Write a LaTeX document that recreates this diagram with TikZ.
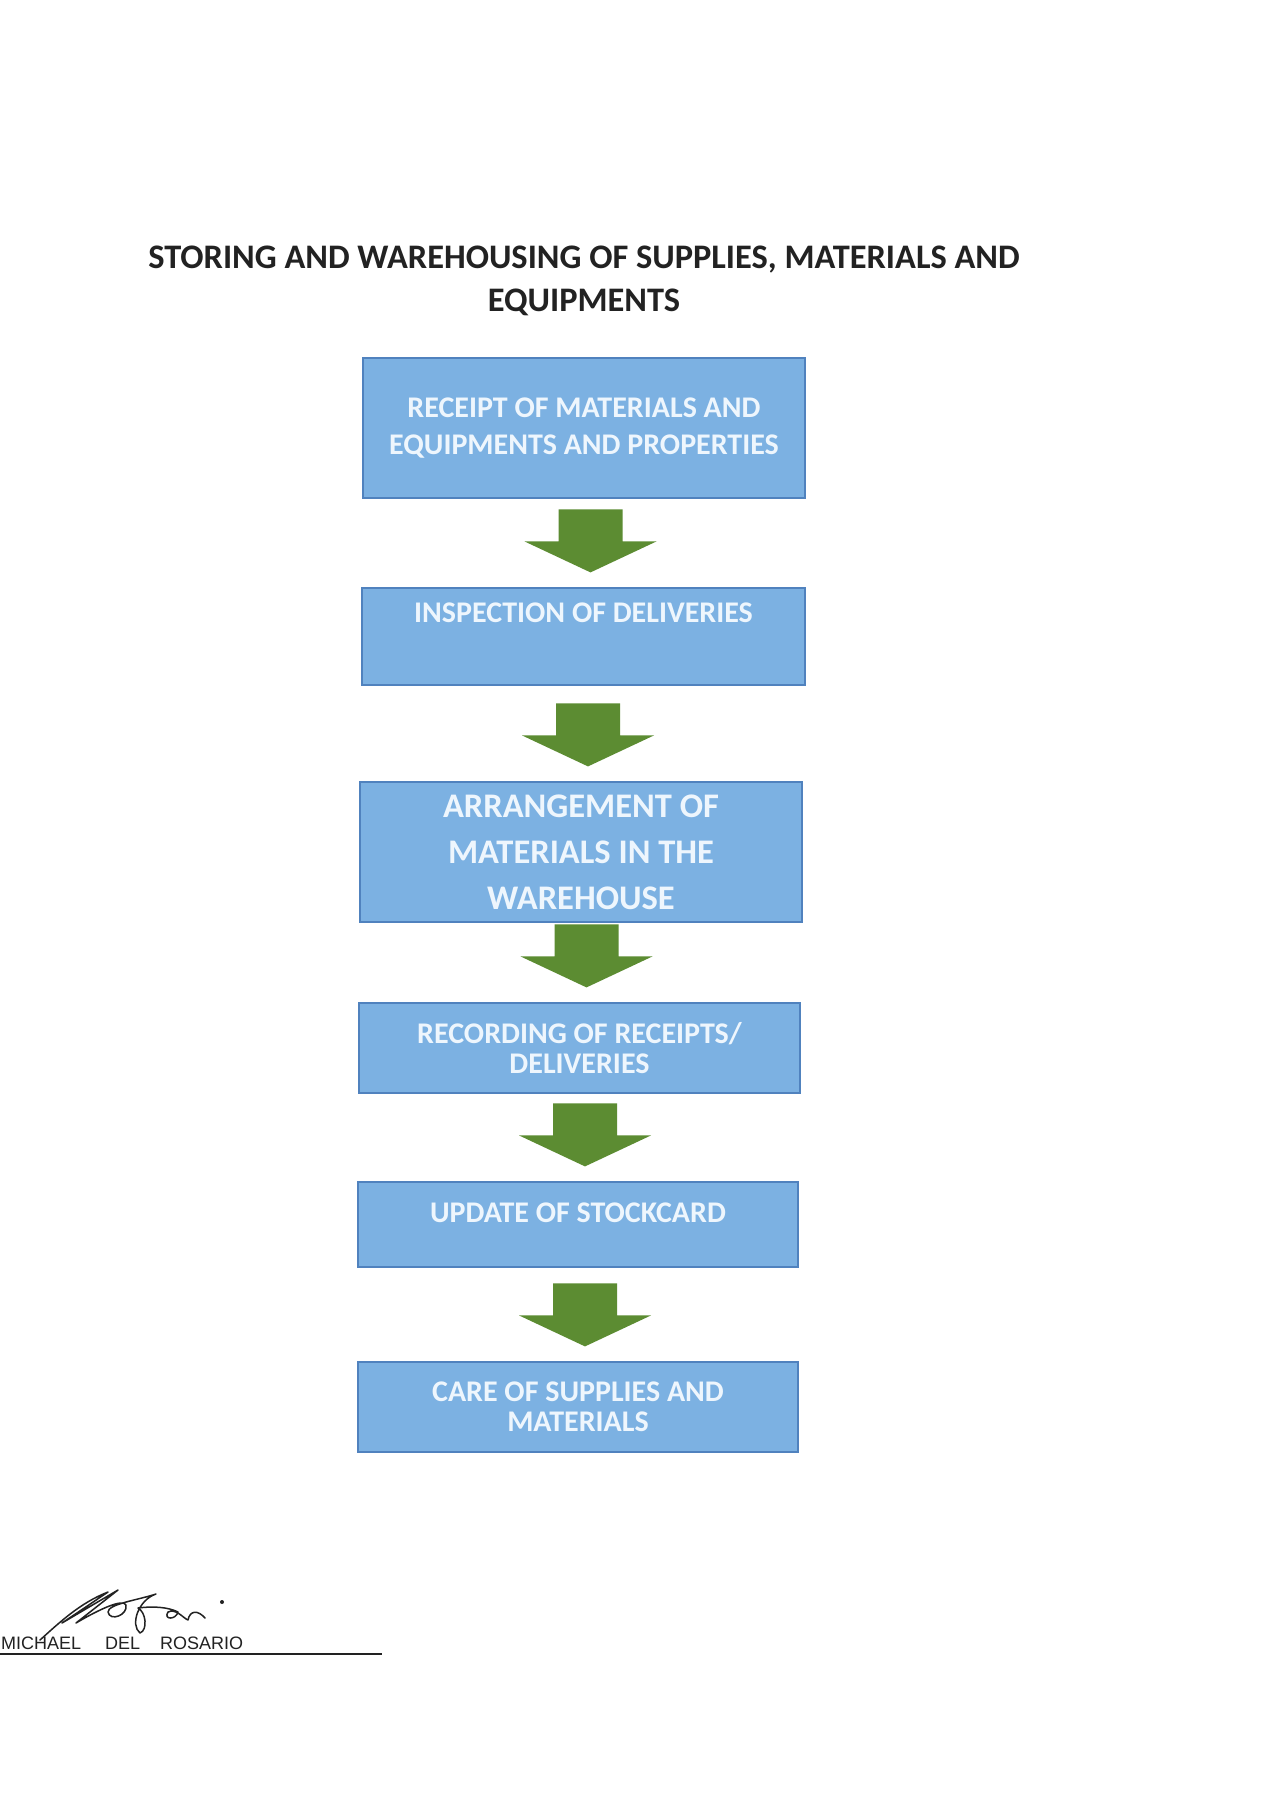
\documentclass[tikz,border=0pt]{standalone}
\usepackage{fontspec}
\setmainfont{Carlito}
\setsansfont{Liberation Sans}
\usepackage{xcolor}
\usetikzlibrary{positioning,calc}

\definecolor{boxblue}{HTML}{7CB1E2}
\definecolor{boxedge}{HTML}{5082BE}
\definecolor{boxtext}{HTML}{EEF6FD}
\definecolor{arrowgreen}{HTML}{5C8C32}
\definecolor{inkgray}{HTML}{222222}

\tikzset{
	stepbox/.style={draw=boxedge, line width=1.2pt, fill=boxblue, text=boxtext,
		minimum width=442pt, inner sep=0pt, align=center,
		font=\bfseries\fontsize{30}{37}\selectfont},
	downarrow/.pic={
		\fill[arrowgreen] (-32,-63) -- (32,-63) -- (32,-31) -- (66,-31)
			-- (0,0) -- (-66,-31) -- (-32,-31) -- cycle;
	}
}

\begin{document}
\begin{tikzpicture}[x=1pt,y=-1pt]
	\useasboundingbox[fill=white] (0,0) rectangle (1272,1800);
	
	% title
	\node[font=\bfseries\fontsize{34.4}{43}\selectfont, text=inkgray, align=center] (title) at (584,281)
		{STORING AND WAREHOUSING OF SUPPLIES, MATERIALS AND\\EQUIPMENTS};
	
	% boxes
	\node[stepbox, minimum height=140pt] (b1) at (584,428)
		{RECEIPT OF MATERIALS AND\\EQUIPMENTS AND PROPERTIES};
	\node[stepbox, minimum width=443pt, minimum height=97pt, text height=22pt, text depth=50pt] (b2) at (583.5,636.5)
		{INSPECTION OF DELIVERIES};
	\node[stepbox, minimum height=140pt, font=\bfseries\fontsize{34.5}{46}\selectfont] (b3) at (581,852)
		{ARRANGEMENT OF\\MATERIALS IN THE\\WAREHOUSE};
	\node[stepbox, minimum width=441pt, minimum height=90pt, font=\bfseries\fontsize{30}{30}\selectfont] (b4) at (579.5,1048)
		{RECORDING OF RECEIPTS/\\DELIVERIES};
	\node[stepbox, minimum width=440pt, minimum height=85pt, text height=20pt, text depth=24pt] (b5) at (578,1224.5)
		{UPDATE OF STOCKCARD};
	\node[stepbox, minimum width=440pt, minimum height=90pt, font=\bfseries\fontsize{30}{30}\selectfont] (b6) at (578,1407)
		{CARE OF SUPPLIES AND\\MATERIALS};
	
	% green arrows
	\foreach \b in {b2,b3,b4,b5,b6}
		\pic at ($(\b.north)+(7,-15)$) {downarrow};
	
	% signature
	\coordinate (sigL) at (0,1654);
	\coordinate (sigR) at (382,1654);
	\draw[inkgray, line width=1.6pt] (sigL) -- (sigR);
	\node[anchor=base west, inner sep=0pt, font=\sffamily\fontsize{18}{18}\selectfont, text=inkgray] (name) at (1,1649)
		{MICHAEL\hspace{24pt}DEL\hspace{20pt}ROSARIO};
	\draw[inkgray, line width=1.5pt, line cap=round, line join=round]
		(40,1640) .. controls (60,1622) and (80,1603) .. (108,1592)
		-- (62,1623) -- (118,1590) -- (76,1623)
		.. controls (98,1610) and (123,1598) .. (126,1605)
		.. controls (128,1615) and (110,1622) .. (108,1612)
		.. controls (108,1604) and (138,1600) .. (156,1594)
		.. controls (138,1600) and (130,1625) .. (140,1633)
		.. controls (148,1630) and (146,1612) .. (138,1608)
		.. controls (153,1606) and (168,1607) .. (178,1612)
		.. controls (176,1620) and (163,1620) .. (168,1612)
		.. controls (176,1608) and (183,1618) .. (188,1620)
		.. controls (190,1610) and (198,1610) .. (205,1618);
	\fill[inkgray] (222,1602) circle (2pt);
\end{tikzpicture}
\end{document}
